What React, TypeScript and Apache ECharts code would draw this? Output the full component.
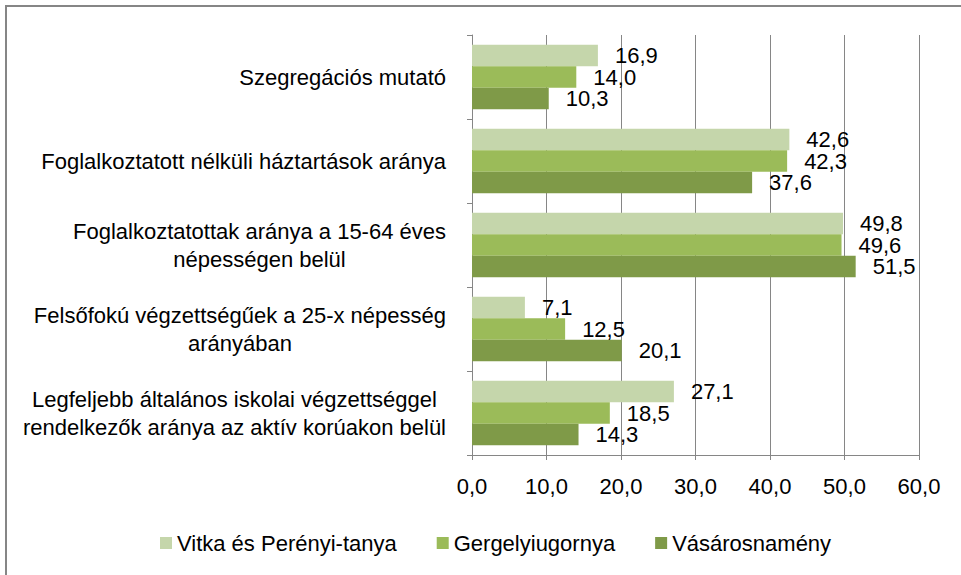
import React, { useEffect, useRef } from "react";
import * as echarts from "echarts";

const categories = [
  "Szegregációs mutató",
  "Foglalkoztatott nélküli háztartások aránya",
  "Foglalkoztatottak aránya a 15-64 éves\nnépességen belül",
  "Felsőfokú végzettségűek a 25-x népesség\narányában",
  "Legfeljebb általános iskolai végzettséggel\nrendelkezők aránya az aktív korúakon belül",
];
const seriesNames = ["Vitka és Perényi-tanya", "Gergelyiugornya", "Vásárosnamény"];
const vitka = [16.9, 42.6, 49.8, 7.1, 27.1];
const gergely = [14.0, 42.3, 49.6, 12.5, 18.5];
const vasaros = [10.3, 37.6, 51.5, 20.1, 14.3];
const colors = ["#C5D6AB", "#9BBB59", "#7F9A48"];
const xTicks = [0, 10, 20, 30, 40, 50, 60];

const FONT = "'Liberation Sans', Arial, sans-serif";
const FS = 22;
const fmt = (v: number) => v.toFixed(1).replace(".", ",");

export default function App() {
  const ref = useRef<HTMLDivElement>(null);
  useEffect(() => {
    if (!ref.current) return;
    const chart = echarts.init(ref.current, undefined, { renderer: "svg" });
    const values = [vitka, gergely, vasaros];
    chart.setOption({
      animation: false,
      textStyle: { fontFamily: FONT, color: "#000" },
      graphic: [
        {
          type: "rect",
          shape: { x: 6, y: 6, width: 1100, height: 1100 },
          style: { fill: "none", stroke: "#868686", lineWidth: 2 },
          z: -10,
        },
      ],
      legend: {
        left: 155,
        top: 527,
        itemWidth: 12,
        itemHeight: 12,
        itemGap: 40,
        icon: "rect",
        textStyle: { fontFamily: FONT, fontSize: FS, color: "#000" },
        data: seriesNames,
      },
      grid: {
        left: 472,
        top: 35,
        width: 447,
        height: 420,
        containLabel: false,
        outerBoundsMode: "none",
      },
      xAxis: {
        type: "value",
        min: xTicks[0],
        max: xTicks[xTicks.length - 1],
        interval: 10,
        axisLine: { show: true, lineStyle: { color: "#868686", width: 1 } },
        axisTick: { show: true, length: 5, lineStyle: { color: "#868686" } },
        splitLine: { show: true, lineStyle: { color: "#868686", width: 1 } },
        axisLabel: {
          formatter: (v: number) => fmt(v),
          fontFamily: FONT,
          fontSize: FS,
          color: "#000",
          margin: 20,
        },
      },
      yAxis: {
        type: "category",
        inverse: true,
        data: categories,
        axisLine: { show: true, lineStyle: { color: "#868686", width: 1 } },
        axisTick: { show: true, length: 5, lineStyle: { color: "#868686" } },
        axisLabel: {
          margin: 26,
          fontFamily: FONT,
          fontSize: FS,
          color: "#000",
          lineHeight: 28,
          formatter: (v: string) =>
            v
              .split("\n")
              .map((l) => "{c|" + l + "}")
              .join("\n"),
          rich: {
            c: { align: "center", fontFamily: FONT, fontSize: FS, lineHeight: 28, color: "#000" },
          },
        },
      },
      series: seriesNames.map((name, i) => ({
        name,
        type: "bar",
        data: values[i],
        barGap: "0%",
        barCategoryGap: "23%",
        itemStyle: { color: colors[i] },
        label: {
          show: true,
          position: "right",
          distance: 17,
          formatter: (p: any) => fmt(p.value),
          fontFamily: FONT,
          fontSize: FS,
          color: "#000",
        },
      })),
    });
    return () => chart.dispose();
  }, []);
  return (
    <div
      ref={ref}
      style={{ position: "fixed", left: 0, top: 0, width: 961, height: 575, background: "#fff" }}
    />
  );
}
